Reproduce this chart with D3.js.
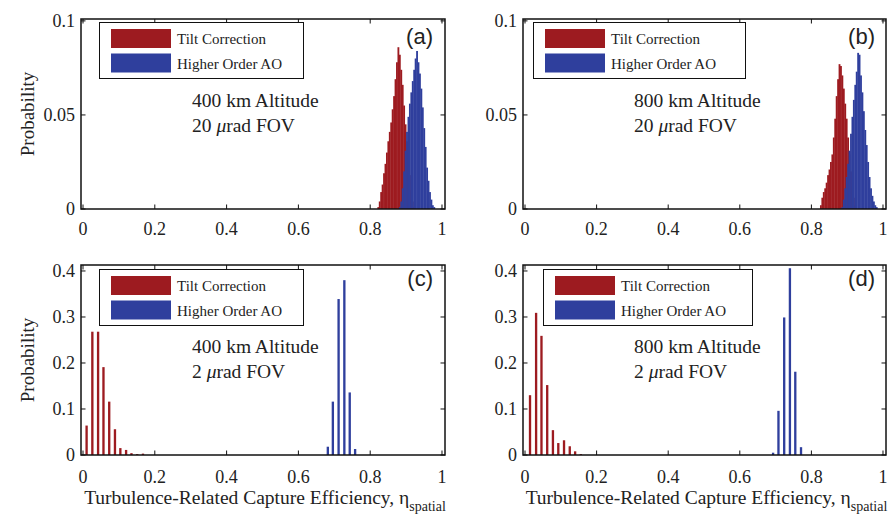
<!DOCTYPE html>
<html>
<head>
<meta charset="utf-8">
<script src="https://cdn.jsdelivr.net/npm/d3@7/dist/d3.min.js"></script>
<style>
  html, body { margin: 0; padding: 0; background: #fff; }
  svg { display: block; }
  text { font-family: "Liberation Serif", "Times New Roman", serif; fill: #222; }
</style>
</head>
<body>
<svg id="chart" width="892" height="517"></svg>
<script>
// ---------------- DATA ----------------
const seriesNames = ["Tilt Correction", "Higher Order AO"];
const panelLabels = ["(a)", "(b)", "(c)", "(d)"];
const altitudeText = ["400 km Altitude", "800 km Altitude", "400 km Altitude", "800 km Altitude"];
const fovValues = ["20", "20", "2", "2"];
const xTicks = [0, 0.2, 0.4, 0.6, 0.8, 1];
const xTickLabels = ["0", "0.2", "0.4", "0.6", "0.8", "1"];
const yTicksTop = [0, 0.05, 0.1];
const yTickLabelsTop = ["0", "0.05", "0.1"];
const yTicksBottom = [0, 0.1, 0.2, 0.3, 0.4];
const yTickLabelsBottom = ["0", "0.1", "0.2", "0.3", "0.4"];
const binWidthFine = 0.004;

// (a) 400 km, 20 urad : fine histograms (bin left edge, probability)
const aTiltX = [0.820,0.824,0.828,0.832,0.836,0.840,0.844,0.848,0.852,0.856,0.860,0.864,0.868,0.872,0.876,0.880,0.884,0.888,0.892,0.896,0.900,0.904,0.908,0.912,0.916,0.920];
const aTiltP = [0.001,0.004,0.009,0.013,0.019,0.024,0.030,0.036,0.041,0.046,0.053,0.060,0.069,0.078,0.086,0.082,0.074,0.066,0.055,0.045,0.036,0.027,0.018,0.010,0.004,0.001];
const aHoX = [0.880,0.884,0.888,0.892,0.896,0.900,0.904,0.908,0.912,0.916,0.920,0.924,0.928,0.932,0.936,0.940,0.944,0.948,0.952,0.956,0.960,0.964,0.968,0.972,0.976];
const aHoP = [0.001,0.004,0.011,0.020,0.031,0.041,0.049,0.056,0.062,0.068,0.074,0.080,0.084,0.078,0.072,0.064,0.054,0.043,0.033,0.022,0.015,0.009,0.005,0.002,0.001];

// (b) 800 km, 20 urad
const bTiltX = [0.824,0.828,0.832,0.836,0.840,0.844,0.848,0.852,0.856,0.860,0.864,0.868,0.872,0.876,0.880,0.884,0.888,0.892,0.896,0.900,0.904,0.908,0.912,0.916,0.920];
const bTiltP = [0.002,0.006,0.009,0.011,0.014,0.018,0.021,0.025,0.029,0.038,0.048,0.060,0.069,0.077,0.076,0.071,0.064,0.056,0.048,0.038,0.029,0.020,0.012,0.006,0.002];
const bHoX = [0.884,0.888,0.892,0.896,0.900,0.904,0.908,0.912,0.916,0.920,0.924,0.928,0.932,0.936,0.940,0.944,0.948,0.952,0.956,0.960,0.964,0.968,0.972,0.976,0.980];
const bHoP = [0.001,0.005,0.011,0.017,0.024,0.031,0.040,0.049,0.058,0.066,0.073,0.083,0.082,0.071,0.062,0.052,0.042,0.034,0.025,0.017,0.011,0.007,0.004,0.002,0.001];

// (c) 400 km, 2 urad : stem-like bars (bin centre, probability)
const cTiltX = [0.010,0.026,0.042,0.057,0.073,0.089,0.104,0.120,0.135,0.151,0.167];
const cTiltP = [0.064,0.268,0.268,0.191,0.116,0.056,0.015,0.011,0.004,0.002,0.003];
const cHoX = [0.682,0.696,0.712,0.728,0.743,0.758];
const cHoP = [0.018,0.116,0.339,0.380,0.136,0.013];

// (d) 800 km, 2 urad
const dTiltX = [0.014,0.031,0.046,0.062,0.078,0.093,0.109,0.125,0.140,0.156];
const dTiltP = [0.130,0.309,0.259,0.152,0.054,0.026,0.032,0.019,0.008,0.002];
const dHoX = [0.693,0.708,0.724,0.740,0.755,0.771];
const dHoP = [0.005,0.096,0.299,0.406,0.181,0.017];

// ---------------- LAYOUT ----------------
const colors = ["#9d1b20", "#2f3f9d"];
const svg = d3.select("#chart");

const panels = [
  {box:[81,445,19,209], ymax:0.101, yT:yTicksTop, yL:yTickLabelsTop, kind:"fine", tlOff:26,
   series:[[aTiltX,aTiltP],[aHoX,aHoP]], leg:[99.5,22.5,204], ann:[192,107], lab:[433,44]},
  {box:[523,886,19,209], ymax:0.101, yT:yTicksTop, yL:yTickLabelsTop, kind:"fine", tlOff:26,
   series:[[bTiltX,bTiltP],[bHoX,bHoP]], leg:[533.5,22.5,212], ann:[634,107], lab:[875,44]},
  {box:[81,445,265,455], ymax:0.413, yT:yTicksBottom, yL:yTickLabelsBottom, kind:"stem", tlOff:28,
   series:[[cTiltX,cTiltP],[cHoX,cHoP]], leg:[99.5,269.5,204], ann:[192,353], lab:[433,286]},
  {box:[523,886,265,455], ymax:0.413, yT:yTicksBottom, yL:yTickLabelsBottom, kind:"stem", tlOff:28,
   series:[[dTiltX,dTiltP],[dHoX,dHoP]], leg:[543.5,269.5,209], ann:[634,353], lab:[875,286]}
];

panels.forEach((p, i) => {
  const [L, R, T, B] = p.box;
  const x = d3.scaleLinear().domain([-0.0056, 1.0084]).range([L, R]);
  const y = d3.scaleLinear().domain([0, p.ymax]).range([B, T]);
  const g = svg.append("g");

  // bars
  p.series.forEach((s, si) => {
    const data = s[0].map((v, k) => ({x: v, p: s[1][k]}));
    if (p.kind === "fine") {
      g.selectAll(null).data(data).enter().append("rect")
        .attr("x", d => x(d.x))
        .attr("width", d => x(d.x + binWidthFine) - x(d.x) + 0.4)
        .attr("y", d => y(d.p))
        .attr("height", d => y(0) - y(d.p))
        .attr("fill", colors[si]);
    } else {
      const w = 0.0065;
      g.selectAll(null).data(data).enter().append("rect")
        .attr("x", d => x(d.x - w / 2))
        .attr("width", d => x(d.x + w / 2) - x(d.x - w / 2))
        .attr("y", d => y(d.p))
        .attr("height", d => y(0) - y(d.p))
        .attr("fill", colors[si]);
    }
  });

  // ticks (inside, all four sides)
  const tl = 4.5;
  xTicks.forEach(t => {
    g.append("line").attr("x1", x(t)).attr("x2", x(t)).attr("y1", B).attr("y2", B - tl)
      .attr("stroke", "#111").attr("stroke-width", 1);
    g.append("line").attr("x1", x(t)).attr("x2", x(t)).attr("y1", T).attr("y2", T + tl)
      .attr("stroke", "#111").attr("stroke-width", 1);
  });
  p.yT.forEach(t => {
    g.append("line").attr("x1", L).attr("x2", L + tl).attr("y1", y(t)).attr("y2", y(t))
      .attr("stroke", "#111").attr("stroke-width", 1);
    g.append("line").attr("x1", R).attr("x2", R - tl).attr("y1", y(t)).attr("y2", y(t))
      .attr("stroke", "#111").attr("stroke-width", 1);
  });

  // box
  g.append("rect").attr("x", L).attr("y", T).attr("width", R - L).attr("height", B - T)
    .attr("fill", "none").attr("stroke", "#111").attr("stroke-width", 1.5);

  // tick labels
  xTicks.forEach((t, k) => {
    g.append("text").attr("x", x(t)).attr("y", B + p.tlOff).attr("text-anchor", "middle")
      .attr("font-size", 18).text(xTickLabels[k]);
  });
  p.yT.forEach((t, k) => {
    g.append("text").attr("x", L - 6).attr("y", y(t) + 6).attr("text-anchor", "end")
      .attr("font-size", 18).text(p.yL[k]);
  });

  // legend
  const [lx, ly, lw] = p.leg;
  g.append("rect").attr("x", lx).attr("y", ly).attr("width", lw).attr("height", 56)
    .attr("fill", "#fff").attr("stroke", "#111").attr("stroke-width", 1);
  seriesNames.forEach((nm, si) => {
    g.append("rect").attr("x", lx + 11.5).attr("y", ly + 6.5 + si * 24.5)
      .attr("width", 60).attr("height", 19).attr("fill", colors[si]);
    g.append("text").attr("x", lx + 77.5).attr("y", ly + 21.5 + si * 24.5)
      .attr("font-size", 15).text(nm);
  });

  // annotation
  const [ax, ay] = p.ann;
  g.append("text").attr("x", ax).attr("y", ay).attr("font-size", 19.5).text(altitudeText[i]);
  const t2 = g.append("text").attr("x", ax).attr("y", ay + 24.5).attr("font-size", 19.5);
  t2.append("tspan").text(fovValues[i] + " ");
  t2.append("tspan").attr("font-style", "italic").text("\u03bc");
  t2.append("tspan").text("rad FOV");

  // panel label
  g.append("text").attr("x", p.lab[0]).attr("y", p.lab[1]).attr("text-anchor", "end")
    .attr("font-size", 22).style("font-family", "'Liberation Sans', Arial, sans-serif")
    .text(panelLabels[i]);

  // y label (left panels only)
  if (i % 2 === 0) {
    svg.append("text").attr("transform", `translate(34,${(T + B) / 2}) rotate(-90)`)
      .attr("text-anchor", "middle").attr("font-size", 19).text("Probability");
  }

  // x label (bottom panels)
  if (i >= 2) {
    const xl = g.append("text").attr("x", (L + R) / 2 + 2).attr("y", 504).attr("text-anchor", "middle")
      .attr("font-size", 19.5);
    xl.append("tspan").text("Turbulence-Related Capture Efficiency, \u03b7");
    xl.append("tspan").attr("font-size", 14).attr("dy", 7).text("spatial");
  }
});
</script>
</body>
</html>
